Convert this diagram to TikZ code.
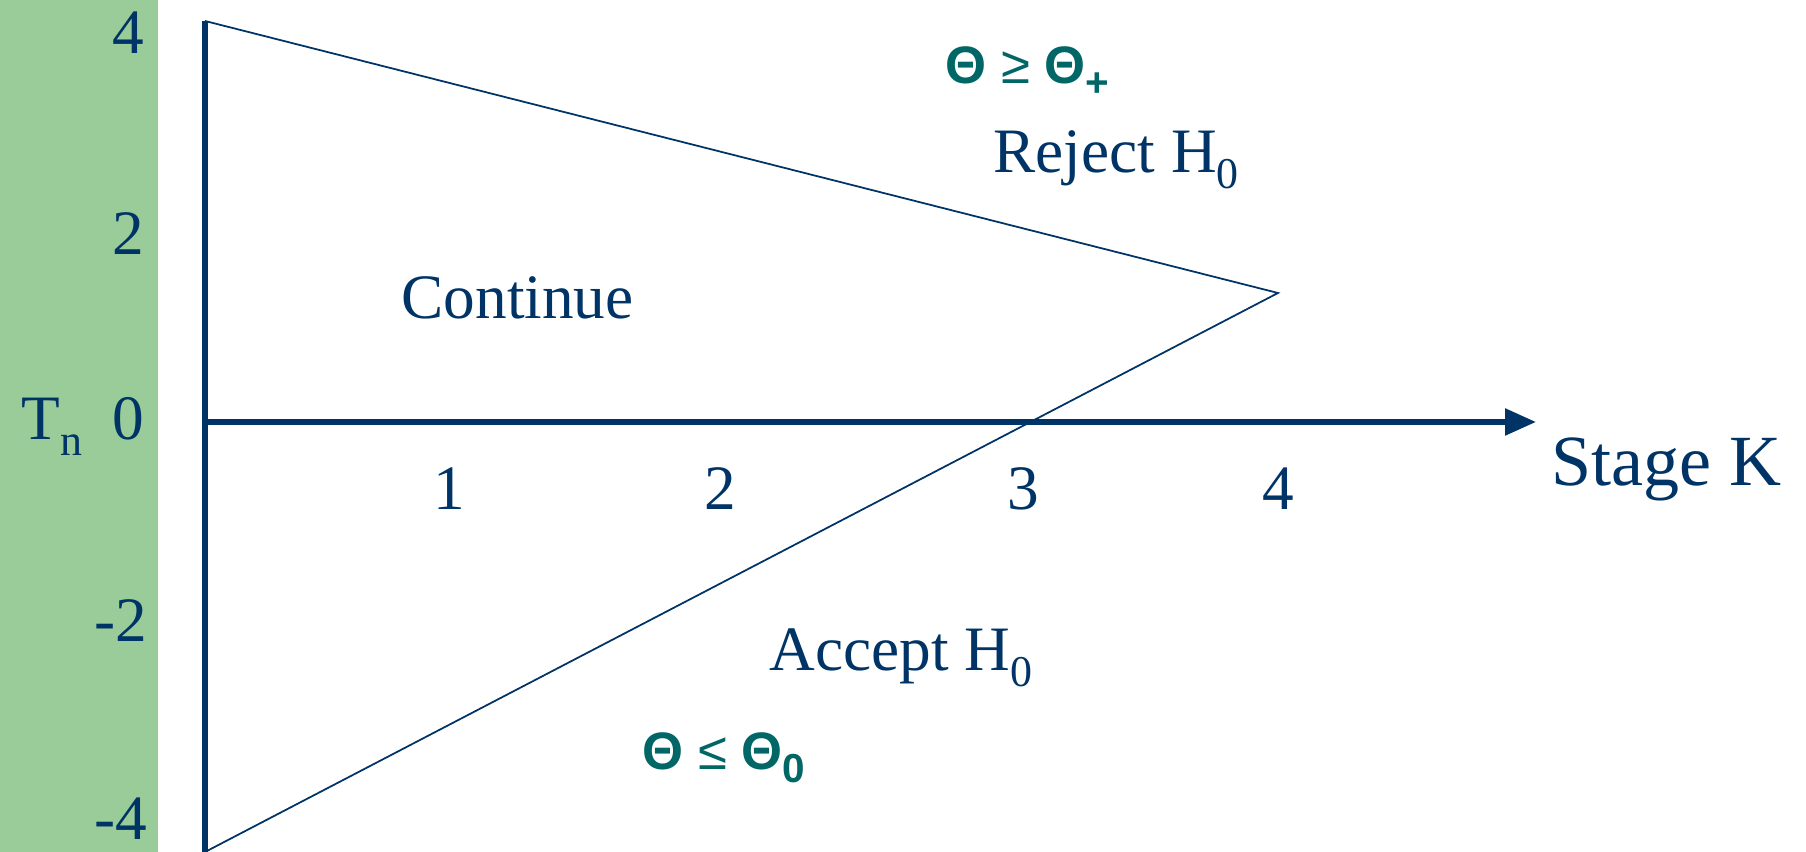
\documentclass[tikz,border=0pt]{standalone}
\usepackage{fontspec}
\setmainfont{Liberation Serif}
\newfontfamily\condfont{Liberation Sans}
\usepackage{xcolor}
\usepackage{tikz}
\usetikzlibrary{arrows.meta, positioning}

\definecolor{navyblue}{RGB}{0,51,102}
\definecolor{condteal}{RGB}{0,102,102}
\definecolor{sidegreen}{RGB}{153,204,153}

\newcommand{\lowsub}[1]{\raisebox{-4.5pt}{\fontsize{12.5}{12}\selectfont #1}}
\newcommand{\condsub}[1]{\raisebox{-3.5pt}{\fontsize{11.5}{10}\selectfont\bfseries #1}}

\begin{document}
\begin{tikzpicture}[
    lbl/.style={text=navyblue, font=\fontsize{18}{20}\selectfont, inner sep=0pt},
    cond/.style={text=condteal, font=\condfont\fontsize{15}{16}\selectfont, inner sep=0pt, anchor=base west},
    axis/.style={draw=navyblue, line width=1.6pt},
    bound/.style={draw=navyblue, line width=0.5pt},
]
\useasboundingbox (0,0) rectangle (18.06,8.52);

% side bar
\fill[sidegreen] (0,0) rectangle (1.58,8.52);

% axes and boundary corners
\coordinate (vtop) at (2.05,8.31);
\coordinate (vbot) at (2.05,0);
\coordinate (origin) at (2.05,4.30);
\coordinate (xend) at (15.36,4.30);
\coordinate (apex) at (12.78,5.59);

% boundaries
\draw[bound] (vtop) -- (apex) -- (vbot);

% axes
\draw[axis] (vtop) -- (vbot);
\draw[axis, -{Triangle[length=3.1mm, width=2.6mm]}] (origin) -- (xend);

% y ticks
\node[lbl, anchor=base east] (y4) at (1.45,7.98) {4};
\node[lbl, anchor=base east] (y2) at (1.45,5.97) {2};
\node[lbl, anchor=base east] (y0) at (1.45,4.12) {0};
\node[lbl, anchor=base east] (ym2) at (1.48,2.10) {-2};
\node[lbl, anchor=base east] (ym4) at (1.48,0.12) {-4};
\node[lbl, anchor=base west] (tn) at (0.21,4.12) {T\lowsub{n}};

% x ticks
\foreach \k/\xpos in {1/4.49, 2/7.20, 3/10.23, 4/12.78}
    \node[lbl, anchor=base] (x\k) at (\xpos,3.42) {\k};
\node[lbl, anchor=base west, font=\fontsize{20.5}{22}\selectfont] (stage) at (15.51,3.66) {Stage K};

% regions
\node[lbl, anchor=base west] (cont) at (4.01,5.33) {Continue};
\node[lbl, anchor=base west] (reject) at (9.93,6.79) {Reject H\lowsub{0}};
\node[lbl, anchor=base west] (accept) at (7.69,1.81) {Accept H\lowsub{0}};

% conditions
\node[cond] (upper) at (9.45,7.68) {\textbf{Θ} ≥ \textbf{Θ}\condsub{+}};
\node[cond] (lower) at (6.42,0.82) {\textbf{Θ} ≤ \textbf{Θ}\condsub{0}};

\end{tikzpicture}
\end{document}
